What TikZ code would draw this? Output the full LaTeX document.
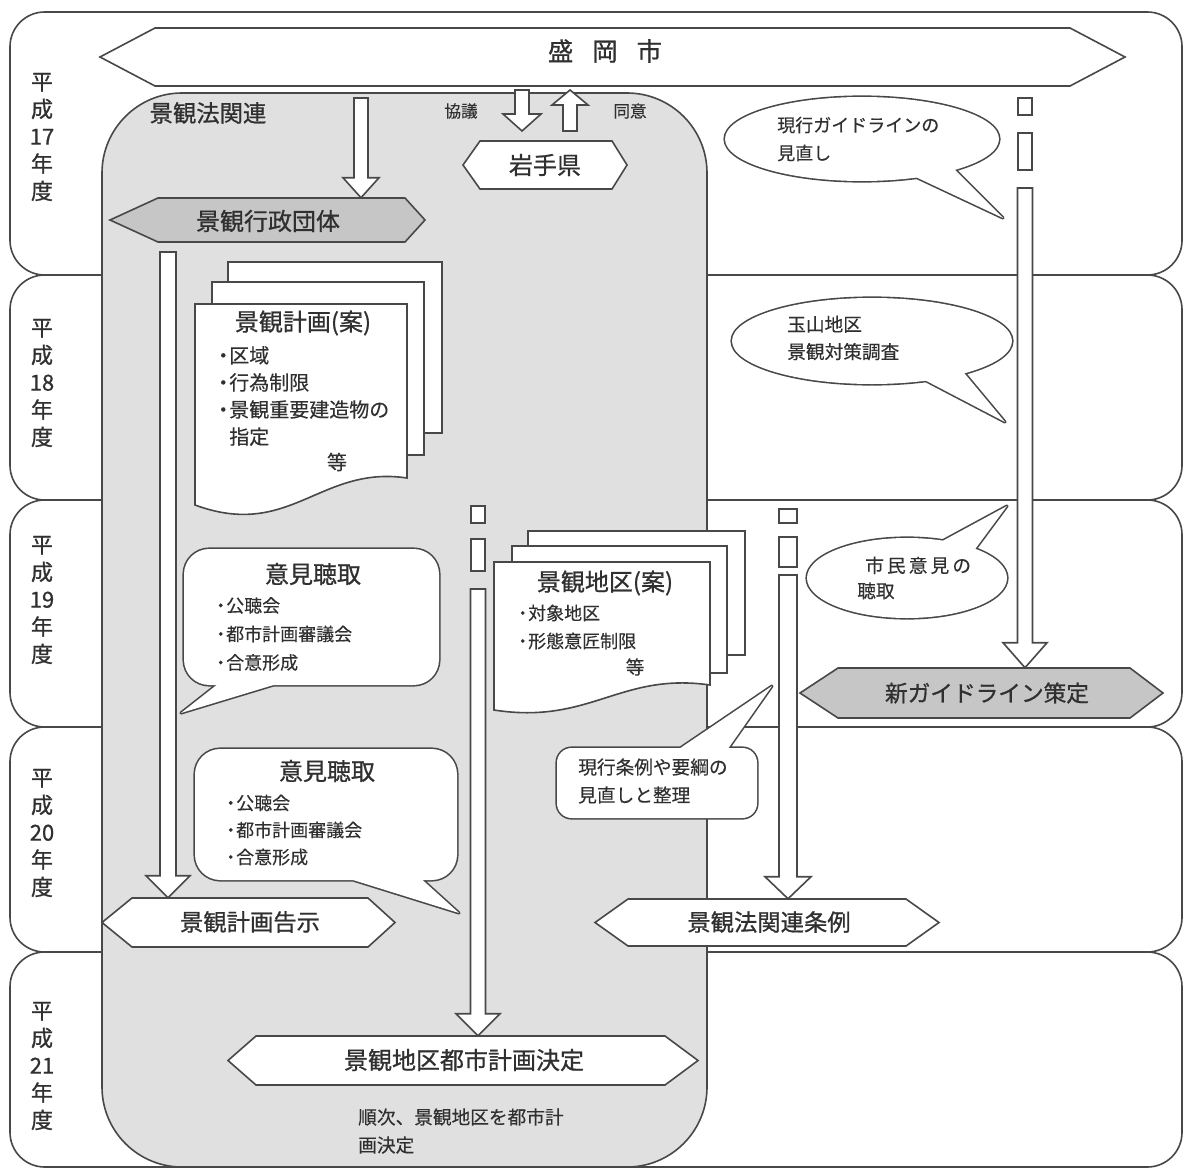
\documentclass[tikz,border=0pt]{standalone}
\usepackage{fontspec}
\setmainfont{Noto Sans CJK JP}[FakeBold=0.3]
\newfontface\hd{Noto Sans CJK JP}[FakeBold=0.8]
\usetikzlibrary{calc}
\definecolor{ln}{HTML}{484848}
\definecolor{tx}{HTML}{303030}
\definecolor{pnl}{HTML}{E0E0E0}
\definecolor{hx}{HTML}{C6C6C6}
\newcommand\fs[2]{\fontsize{#1}{#2}\selectfont}
\newcommand\bl{\kern-0.25em・\kern-0.2em}
\tikzset{
 ol/.style={draw=ln, line width=1.2pt},
 band/.style={ol, fill=white, rounded corners=26pt},
 panel/.style={ol, fill=pnl, rounded corners=60pt},
 hexw/.style={ol, fill=white, line join=miter},
 hexg/.style={ol, fill=hx, line join=miter},
 barrow/.style={ol, fill=white, line join=miter},
 seg/.style={ol, fill=white},
 doc/.style={ol, fill=white},
 lbl/.style={text=tx, inner sep=0pt},
 yr/.style={lbl, align=center, font=\hd\fs{16.5}{20.5}},
}
% hexagon: name, style, xl, xr, ytop, ybot, left len, right len
\newcommand\hexnode[8]{%
 \draw[#2] (#3,#5) -- (#4,#5) -- (#4+#8,{(#5+#6)/2}) -- (#4,#6) -- (#3,#6) -- (#3-#7,{(#5+#6)/2}) -- cycle;
 \node[inner sep=0pt, minimum width={(#4-#3)*0.75pt}, minimum height={(#6-#5)*0.75pt}] (#1) at ({(#3+#4)/2},{(#5+#6)/2}) {};}
% block arrows: start, tip, shaft half, head half, head length (px)
\newcommand\darrow[5]{%
 \draw[barrow] let \p1=(#1), \p2=(#2) in
 ({\x1-#3*0.75pt},\y1) -- ({\x1-#3*0.75pt},{\y2+#5*0.75pt}) -- ({\x1-#4*0.75pt},{\y2+#5*0.75pt}) -- (\x1,\y2)
 -- ({\x1+#4*0.75pt},{\y2+#5*0.75pt}) -- ({\x1+#3*0.75pt},{\y2+#5*0.75pt}) -- ({\x1+#3*0.75pt},\y1) -- cycle;}
\newcommand\uarrow[5]{%
 \draw[barrow] let \p1=(#1), \p2=(#2) in
 ({\x1-#3*0.75pt},\y1) -- ({\x1-#3*0.75pt},{\y2-#5*0.75pt}) -- ({\x1-#4*0.75pt},{\y2-#5*0.75pt}) -- (\x1,\y2)
 -- ({\x1+#4*0.75pt},{\y2-#5*0.75pt}) -- ({\x1+#3*0.75pt},{\y2-#5*0.75pt}) -- ({\x1+#3*0.75pt},\y1) -- cycle;}
% callout: body path, tail path
\newcommand\bubble[2]{%
 \draw[draw=ln, line width=2.4pt, line join=round] #1 #2;
 \fill[white] #1; \fill[white] #2;}
\begin{document}
\begin{tikzpicture}[x=0.75pt,y=-0.75pt]
\useasboundingbox (0,0) rectangle (1187,1170);
\fill[white] (0,0) rectangle (1187,1170);
% year bands
\draw[band] (10,12) rectangle (1182,275);
\draw[band] (10,275) rectangle (1182,500);
\draw[band] (10,500) rectangle (1182,727);
\draw[band] (10,727) rectangle (1182,952);
\draw[band] (10,952) rectangle (1182,1167);
\node[yr] (y17) at (42,137) {平\\成\\17\\年\\度};
\node[yr] (y18) at (42,383) {平\\成\\18\\年\\度};
\node[yr] (y19) at (42,600) {平\\成\\19\\年\\度};
\node[yr] (y20) at (42,833) {平\\成\\20\\年\\度};
\node[yr] (y21) at (42,1066) {平\\成\\21\\年\\度};
% landscape-law panel
\draw[panel] (102,93) rectangle (707,1167);
\node[lbl, font=\hd\fs{17.5}{21}] (keikanho) at (208,113) {景観法関連};
% Morioka city
\hexnode{morioka}{hexw}{155}{1070}{28}{86}{55}{55}
\node[lbl, font=\hd\fs{19}{23}] (moriokat) at (605,51) {盛\hspace{0.75em}岡\hspace{0.75em}市};
% consultation arrows
\node[lbl, font=\fs{12.5}{15}] (kyogi) at (461,111) {協議};
\node[lbl, font=\fs{12.5}{15}] (doi) at (630,111) {同意};
\coordinate (k1s) at (522,90); \coordinate (k1e) at (522,131);
\darrow{k1s}{k1e}{7}{19}{17}
\coordinate (d1s) at (570,131); \coordinate (d1e) at (570,90);
\uarrow{d1s}{d1e}{7}{18}{15}
\hexnode{iwate}{hexw}{480}{612}{141}{189}{17}{15}
\node[lbl, font=\hd\fs{18}{22}] (iwatet) at (545,165) {岩手県};
% landscape administrative body
\hexnode{gyosei}{hexg}{158}{405}{198}{242}{48}{20}
\node[lbl, font=\hd\fs{18}{22}] (gyoseit) at (268,221) {景観行政団体};
\coordinate (a1s) at (361,98);
\darrow{a1s}{gyosei.north -| a1s}{7}{18}{20}
% guideline column
\draw[seg] (1018,98) rectangle (1032,115);
\draw[seg] (1018,133) rectangle (1032,170);
\hexnode{shin}{hexg}{838}{1130}{668}{718}{38}{33}
\node[lbl, font=\hd\fs{17}{21}] (shint) at (987,693) {新ガイドライン策定};
\coordinate (a5s) at (1025,188);
\darrow{a5s}{shin.north -| a5s}{7.5}{22}{25}
\bubble{(862,139) ellipse [x radius=137, y radius=42]}{(905,172) -- (1003,218) -- (950,165) -- cycle}
\node[lbl, font=\fs{13.5}{21}, align=left, anchor=west] (guidet) at (777,139) {現行ガイドラインの\\見直し};
\bubble{(872,341) ellipse [x radius=140, y radius=43]}{(915,375) -- (1005,422) -- (960,368) -- cycle}
\node[lbl, font=\fs{14}{20.5}, align=left, anchor=west] (tamat) at (787,338) {玉山地区\\景観対策調査};
\bubble{(907,578) ellipse [x radius=100, y radius=40]}{(935,545) -- (1007,506) -- (970,556) -- cycle}
\node[lbl, font=\fs{14}{19}, align=left, anchor=west] (shimint) at (857,578) {\hspace{6pt}市\,民\,意\,見\,の\\聴取};
% landscape plan (draft)
\draw[doc] (228,262) rectangle (442,433);
\draw[doc] (212,282) rectangle (424,455);
\draw[doc] (195,304) -- (407,304) -- (407,478) .. controls (320,465) and (290,540) .. (195,505) -- cycle;
\node[lbl, font=\hd\fs{18}{22}] (plant) at (303,323) {景観計画(案)};
\node[lbl, font=\fs{15}{20.3}, align=left, anchor=west] (planb) at (218,396) {\bl 区域\\\bl 行為制限\\\bl 景観重要建造物の\\\hphantom{\bl}指定};
\node[lbl, font=\fs{15}{18}] (plane) at (337,462) {等};
% left arrow
\hexnode{kokuji}{hexw}{132}{368}{898}{947}{30}{27}
\node[lbl, font=\hd\fs{17.5}{21}] (kokujit) at (250,922) {景観計画告示};
\coordinate (a2s) at (168,252);
\darrow{a2s}{kokuji.north -| a2s}{8}{22}{22}
% hearings
\bubble{[rounded corners=19pt] (184,549) rectangle (439,685) [sharp corners]}{(223,680) -- (181,713) -- (290,680) -- cycle}
\node[lbl, font=\hd\fs{18}{22}] (iken1t) at (313,574) {意見聴取};
\node[lbl, font=\fs{13.5}{21.4}, align=left, anchor=west] (iken1b) at (216,634) {\bl 公聴会\\\bl 都市計画審議会\\\bl 合意形成};
\bubble{[rounded corners=19pt] (195,749) rectangle (457,880) [sharp corners]}{(337,875) -- (459,913) -- (417,875) -- cycle}
\node[lbl, font=\hd\fs{18}{22}] (iken2t) at (327,771) {意見聴取};
\node[lbl, font=\fs{13.5}{20.3}, align=left, anchor=west] (iken2b) at (226,830) {\bl 公聴会\\\bl 都市計画審議会\\\bl 合意形成};
% landscape district (draft)
\draw[doc] (528,531) rectangle (745,655);
\draw[doc] (512,546) rectangle (727,673);
\draw[doc] (494,562) -- (710,562) -- (710,685) .. controls (620,672) and (590,725) .. (494,710) -- cycle;
\node[lbl, font=\hd\fs{18}{22}] (chikut) at (605,583) {景観地区(案)};
\node[lbl, font=\fs{13.5}{21}, align=left, anchor=west] (chikub) at (518,627) {\bl 対象地区\\\bl 形態意匠制限};
\node[lbl, font=\fs{14}{18}] (chikue) at (635,667) {等};
% middle arrow
\draw[seg] (471,506) rectangle (485,523);
\draw[seg] (471,539) rectangle (485,571);
\hexnode{kettei}{hexw}{256}{665}{1036}{1085}{28}{33}
\node[lbl, font=\hd\fs{18}{22}] (ketteit) at (464,1060) {景観地区都市計画決定};
\coordinate (a3s) at (478,589);
\darrow{a3s}{kettei.north -| a3s}{7.5}{22}{22}
\node[lbl, font=\fs{14}{21}, align=left, anchor=west] (junji) at (358,1131) {順次、景観地区を都市計\\画決定};
% ordinance column
\draw[seg] (779,509) rectangle (797,523);
\draw[seg] (779,537) rectangle (797,567);
\hexnode{jorei}{hexw}{628}{906}{899}{946}{33}{33}
\node[lbl, font=\hd\fs{17.5}{21}] (joreit) at (769,922) {景観法関連条例};
\coordinate (a4s) at (788,575);
\darrow{a4s}{jorei.north -| a4s}{9}{23}{22}
\bubble{[rounded corners=11pt] (557,748) rectangle (757,818) [sharp corners]}{(673,753) -- (772,686) -- (725,753) -- cycle}
\node[lbl, font=\fs{14}{21}, align=left, anchor=west] (genkot) at (578,781) {現行条例や要綱の\\見直しと整理};
\end{tikzpicture}
\end{document}
